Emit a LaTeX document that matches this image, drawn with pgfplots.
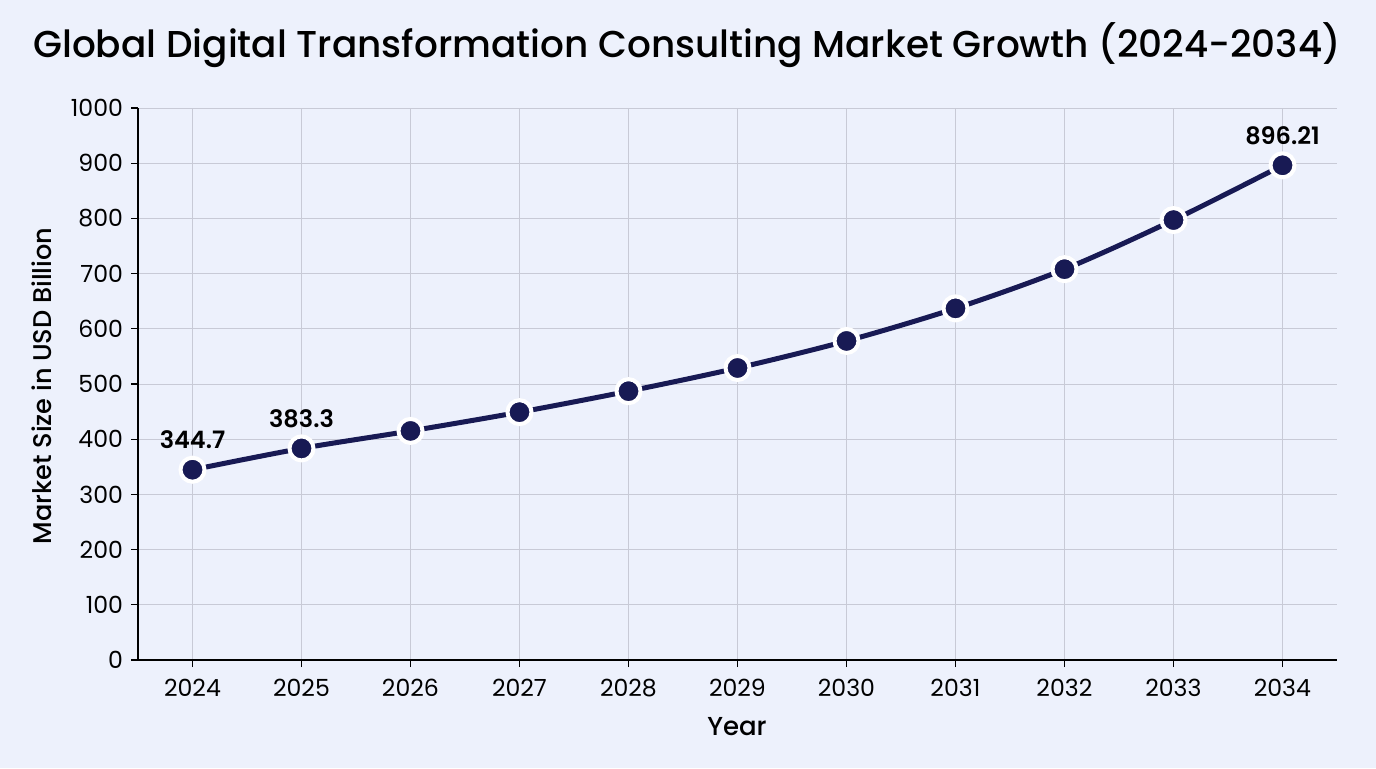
\documentclass[border=0pt]{standalone}
\usepackage{fontspec}
\usepackage{pgfplots}
\pgfplotsset{compat=1.18}
\setmainfont{Poppins}
\IfFontExistsTF{Poppins Medium}{\newfontfamily\pmed{Poppins Medium}}{\newfontfamily\pmed{Poppins}}
\IfFontExistsTF{Poppins SemiBold}{\newfontfamily\psemi{Poppins SemiBold}}{\newfontfamily\psemi{Poppins}[UprightFont=*Bold]}
\definecolor{bg}{RGB}{237,241,252}
\definecolor{navy}{RGB}{24,26,84}
\definecolor{gridc}{RGB}{200,202,214}
\begin{document}
\begin{tikzpicture}
\fill[bg] (0,0) rectangle (688pt,384pt);
\begin{axis}[
  at={(69pt,54pt)}, anchor=south west,
  scale only axis, width=599.5pt, height=276pt,
  xmin=2023.5, xmax=2034.5, ymin=0, ymax=1000,
  xtick={2024,...,2034}, ytick={0,100,...,1000},
  grid=major, major grid style={gridc, line width=0.5pt},
  axis x line*=bottom, axis y line*=left,
  axis line style={black, line width=0.6pt, -},
  tick align=outside, major tick length=3.5pt,
  tick style={black, line width=0.6pt},
  /pgf/number format/assume math mode=true,
  x tick label style={/pgf/number format/1000 sep=, font=\fontsize{11.8}{13}\selectfont, yshift=-2.5pt},
  y tick label style={/pgf/number format/1000 sep=, font=\fontsize{11.8}{13}\selectfont, xshift=-0.5pt},
  clip=false,
]
\addplot[navy, line width=2.5pt, smooth, mark=*, mark size=6pt,
  mark options={fill=navy, draw=white, line width=2pt}]
  coordinates {(2024,344.7) (2025,383.3) (2026,415) (2027,449) (2028,487) (2029,529) (2030,578) (2031,637) (2032,708) (2033,797) (2034,896.21)};
\node[font=\psemi\fontsize{12}{14}\selectfont] at (axis cs:2024,344.7) [yshift=15pt] {344.7};
\node[font=\psemi\fontsize{12}{14}\selectfont] at (axis cs:2025,383.3) [yshift=15pt] {383.3};
\node[font=\psemi\fontsize{12}{14}\selectfont] at (axis cs:2034,896.21) [yshift=15pt] {896.21};
\end{axis}
\node[font=\pmed\fontsize{18.7}{22}\selectfont] at (343.5pt,361.5pt) {Global Digital Transformation Consulting Market Growth (2024-2034)};
\node[font=\pmed\fontsize{13}{15}\selectfont] at (368.5pt,20.5pt) {Year};
\node[font=\pmed\fontsize{12.8}{15}\selectfont, rotate=90] at (21pt,191pt) {Market Size in USD Billion};
\end{tikzpicture}
\end{document}
